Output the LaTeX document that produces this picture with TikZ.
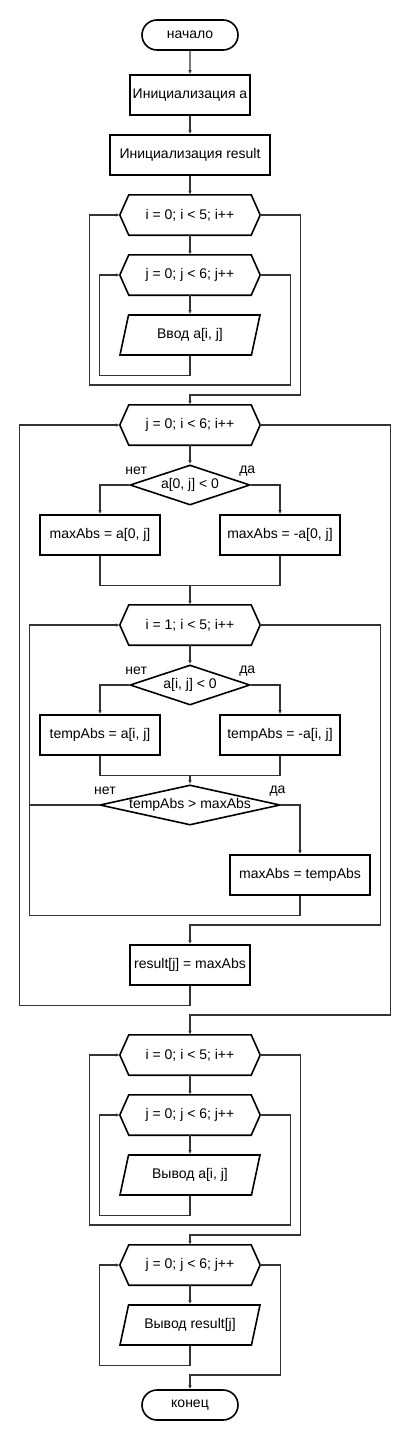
\documentclass[tikz,border=0pt]{standalone}
\usepackage{fontspec}
\setmainfont{Liberation Sans}
\usepackage{tikz}
\usetikzlibrary{arrows.meta, positioning, shapes.geometric, calc, shapes.misc}

\definecolor{linegray}{HTML}{333333}

\tikzset{
  shapeline/.style={draw=black, line width=1.6pt},
  term/.style={shapeline, rounded rectangle, minimum width=100pt, minimum height=30pt, inner sep=2pt},
  proc/.style={shapeline, rectangle, minimum width=120pt, minimum height=40pt, inner sep=2pt},
  loopbox/.style={rectangle, minimum width=140pt, minimum height=40pt, inner sep=2pt,
    append after command={\pgfextra{\draw[shapeline, line join=miter]
      ([xshift=9pt]\tikzlastnode.north west) -- ([xshift=-9pt]\tikzlastnode.north east)
      -- (\tikzlastnode.east) -- ([xshift=-9pt]\tikzlastnode.south east)
      -- ([xshift=9pt]\tikzlastnode.south west) -- (\tikzlastnode.west) -- cycle;}}},
  iobox/.style={shapeline, trapezium, trapezium left angle=63.4, trapezium right angle=116.6,
    trapezium stretches body, minimum width=140pt, minimum height=40pt, inner sep=2pt},
  cond/.style={shapeline, diamond, shape aspect=3, minimum width=120pt, minimum height=40pt, inner sep=0pt},
  lbl/.style={inner sep=0pt},
  line/.style={draw=linegray, line width=1.2pt},
  arr/.style={line, -{Latex[length=4pt,width=3.5pt]}},
}

\begin{document}
\begin{tikzpicture}[x=1pt, y=-1pt, font=\fontsize{14}{16}\selectfont]
  \useasboundingbox (0,0) rectangle (410,1440);

  % Input part
  \node[term] (start) at (190,35) {начало};
  \node[proc] (init1) at (190,95) {Инициализация a};
  \node[proc, minimum width=160pt] (init2) at (190,155) {Инициализация result};
  \node[loopbox] (loopI1) at (190,215) {i = 0; i < 5; i++};
  \node[loopbox] (loopJ1) at (190,275) {j = 0; j < 6; j++};
  \node[iobox] (in1) at (190,335) {Ввод a[i, j]};

  % Search of max abs
  \node[loopbox] (loopJ) at (190,425) {j = 0; i < 6; i++};
  \node[cond] (c1) at (190,485) {a[0, j] < 0};
  \node[proc] (m1) at (100,535) {maxAbs = a[0, j]};
  \node[proc] (m2) at (280,535) {maxAbs = -a[0, j]};
  \node[loopbox] (loopI) at (190,625) {i = 1; i < 5; i++};
  \node[cond] (c2) at (190,685) {a[i, j] < 0};
  \node[proc] (t1) at (100,735) {tempAbs = a[i, j]};
  \node[proc] (t2) at (280,735) {tempAbs = -a[i, j]};
  \node[cond, minimum width=180pt, shape aspect=4.5] (c3) at (190,805) {tempAbs > maxAbs};
  \node[proc, minimum width=140pt] (m3) at (300,875) {maxAbs = tempAbs};
  \node[proc] (res) at (190,965) {result[j] = maxAbs};

  % Labels
  \node[lbl] at ([shift={(7,-14)}]c1.west) {нет};
  \node[lbl] at ([shift={(-3.5,-14)}]c1.east) {да};
  \node[lbl] at ([shift={(7,-14)}]c2.west) {нет};
  \node[lbl] at ([shift={(-3.5,-14)}]c2.east) {да};
  \node[lbl] at ([shift={(6,-14)}]c3.west) {нет};
  \node[lbl] at ([shift={(-3.5,-14)}]c3.east) {да};

  % Output part
  \node[loopbox] (loopI2) at (190,1055) {i = 0; i < 5; i++};
  \node[loopbox] (loopJ2) at (190,1115) {j = 0; j < 6; j++};
  \node[iobox] (out1) at (190,1175) {Вывод a[i, j]};
  \node[loopbox] (loopJ3) at (190,1265) {j = 0; j < 6; j++};
  \node[iobox] (out2) at (190,1325) {Вывод result[j]};
  \node[term] (stop) at (190,1405) {конец};

  % Input connectors
  \draw[arr] (start) -- (init1);
  \draw[arr] (init1) -- (init2);
  \draw[arr] (init2) -- (loopI1);
  \draw[arr] (loopI1) -- (loopJ1);
  \draw[arr] (loopJ1) -- (in1);
  \draw[arr] (in1.south) -- ++(0,20) -| ([xshift=-20]loopJ1.west) -- (loopJ1.west);
  \draw[arr] (loopJ1.east) -- ++(30,0) -- ++(0,110) -| ([xshift=-30]loopI1.west) -- (loopI1.west);
  \draw[arr] (loopI1.east) -- ++(40,0) -- ++(0,180) -| (loopJ.north);

  % Max abs connectors
  \draw[arr] (loopJ) -- (c1);
  \draw[arr] (c1.west) -| (m1.north);
  \draw[arr] (c1.east) -| (m2.north);
  \draw[line] (m1.south) -- ++(0,30) coordinate (j1) -| (m2.south);
  \draw[arr] (j1 -| loopI.north) -- (loopI.north);
  \draw[arr] (loopI) -- (c2);
  \draw[arr] (c2.west) -| (t1.north);
  \draw[arr] (c2.east) -| (t2.north);
  \draw[line] (t1.south) -- ++(0,20) coordinate (j2) -| (t2.south);
  \draw[arr] (j2 -| c3.north) -- (c3.north);
  \draw[arr] (c3.east) -| (m3.north);
  \draw[line] (c3.west) -- ([xshift=-70]c3.west);
  \draw[arr] (m3.south) -- ++(0,20) -| ([xshift=-90]loopI.west) -- (loopI.west);
  \draw[arr] (loopI.east) -- ++(120,0) -- ++(0,300) -| (res.north);
  \draw[arr] (res.south) -- ++(0,20) -| ([xshift=-100]loopJ.west) -- (loopJ.west);
  \draw[arr] (loopJ.east) -- ++(130,0) -- ++(0,590) -| (loopI2.north);

  % Output connectors
  \draw[arr] (loopI2) -- (loopJ2);
  \draw[arr] (loopJ2) -- (out1);
  \draw[arr] (out1.south) -- ++(0,20) -| ([xshift=-20]loopJ2.west) -- (loopJ2.west);
  \draw[arr] (loopJ2.east) -- ++(30,0) -- ++(0,110) -| ([xshift=-30]loopI2.west) -- (loopI2.west);
  \draw[arr] (loopI2.east) -- ++(40,0) -- ++(0,180) -| (loopJ3.north);
  \draw[arr] (loopJ3) -- (out2);
  \draw[arr] (out2.south) -- ++(0,20) -| ([xshift=-20]loopJ3.west) -- (loopJ3.west);
  \draw[arr] (loopJ3.east) -- ++(20,0) -- ++(0,110) -| (stop.north);
\end{tikzpicture}
\end{document}
